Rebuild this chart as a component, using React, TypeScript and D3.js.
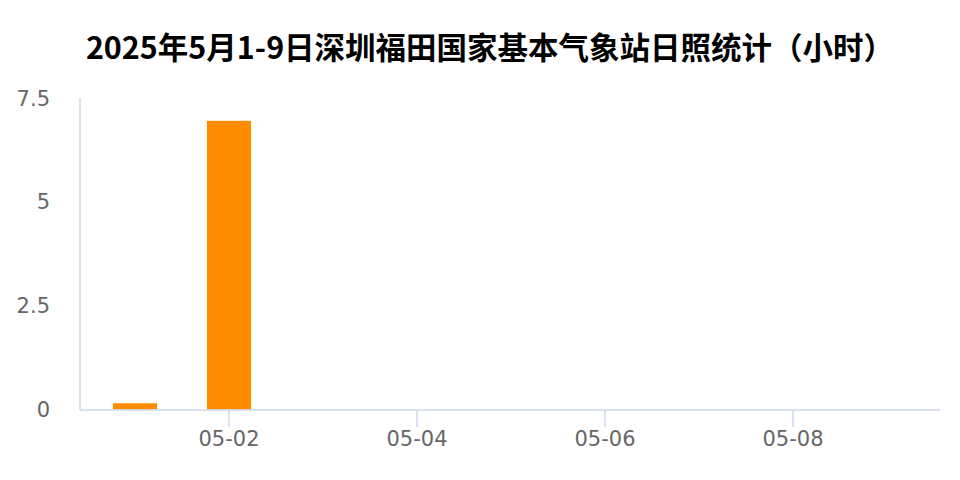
import { useEffect, useRef } from 'react';
import * as d3 from 'd3';

const title = '2025年5月1-9日深圳福田国家基本气象站日照统计（小时）';
const dates = ['05-01', '05-02', '05-03', '05-04', '05-05', '05-06', '05-07', '05-08', '05-09'];
const sunHours = [0.15, 6.95, 0, 0, 0, 0, 0, 0, 0];
const yTicks = [0, 2.5, 5, 7.5];
const xTickLabels = ['05-02', '05-04', '05-06', '05-08'];

export default function App() {
  const svgRef = useRef<SVGSVGElement>(null);

  useEffect(() => {
    if (!svgRef.current) return;
    const width = 960;
    const height = 480;
    const plot = { left: 80, right: 940, top: 98, bottom: 410 };
    const axisColor = '#ccd6eb';
    const labelFont = '"DejaVu Sans", Verdana, sans-serif';

    const svg = d3.select(svgRef.current);
    svg.selectAll('*').remove();
    svg.attr('width', width).attr('height', height).attr('viewBox', `0 0 ${width} ${height}`);

    svg.append('rect').attr('width', width).attr('height', height).attr('fill', '#fff');

    // title
    svg
      .append('text')
      .attr('x', 490)
      .attr('y', 59)
      .attr('text-anchor', 'middle')
      .attr('font-family', '"Noto Sans CJK SC", sans-serif')
      .attr('font-weight', 700)
      .attr('font-size', 30.5)
      .attr('fill', '#000')
      .text(title);

    const x = d3.scaleBand<string>().domain(dates).range([88, 934]).padding(0);
    const y = d3.scaleLinear().domain([0, 7.5]).range([plot.bottom - 0.5, plot.top]);

    // bars
    const barW = x.bandwidth() * 0.47;
    svg
      .append('g')
      .selectAll('rect')
      .data(dates.map((d, i) => ({ d, v: sunHours[i] })))
      .enter()
      .append('rect')
      .attr('x', (p) => (x(p.d) as number) + x.bandwidth() / 2 - barW / 2)
      .attr('width', barW)
      .attr('y', (p) => y(p.v))
      .attr('height', (p) => y(0) - y(p.v))
      .attr('fill', '#ff8c00');

    // y axis line
    svg
      .append('line')
      .attr('x1', plot.left)
      .attr('x2', plot.left)
      .attr('y1', plot.top)
      .attr('y2', plot.bottom)
      .attr('stroke', axisColor)
      .attr('stroke-width', 1.5);

    // x axis line
    svg
      .append('line')
      .attr('x1', plot.left)
      .attr('x2', plot.right)
      .attr('y1', plot.bottom)
      .attr('y2', plot.bottom)
      .attr('stroke', axisColor)
      .attr('stroke-width', 1.5);

    // y labels
    svg
      .append('g')
      .selectAll('text')
      .data(yTicks)
      .enter()
      .append('text')
      .attr('x', 50)
      .attr('y', (t) => y(t))
      .attr('dy', '0.36em')
      .attr('text-anchor', 'end')
      .attr('font-family', labelFont)
      .attr('font-size', 21)
      .attr('fill', '#666')
      .text((t) => String(t));

    // x ticks and labels
    const xt = svg
      .append('g')
      .selectAll('g')
      .data(xTickLabels)
      .enter()
      .append('g')
      .attr('transform', (d) => `translate(${(x(d) as number) + x.bandwidth() / 2},${plot.bottom})`);
    xt.append('line').attr('y1', 0).attr('y2', 17).attr('stroke', axisColor).attr('stroke-width', 1.5);
    xt.append('text')
      .attr('y', 36)
      .attr('text-anchor', 'middle')
      .attr('font-family', labelFont)
      .attr('font-size', 21)
      .attr('fill', '#666')
      .text((d) => d);
  }, []);

  return (
    <div style={{ position: 'absolute', left: 0, top: 0, width: 960, height: 480 }}>
      <svg ref={svgRef} style={{ display: 'block' }} />
    </div>
  );
}
